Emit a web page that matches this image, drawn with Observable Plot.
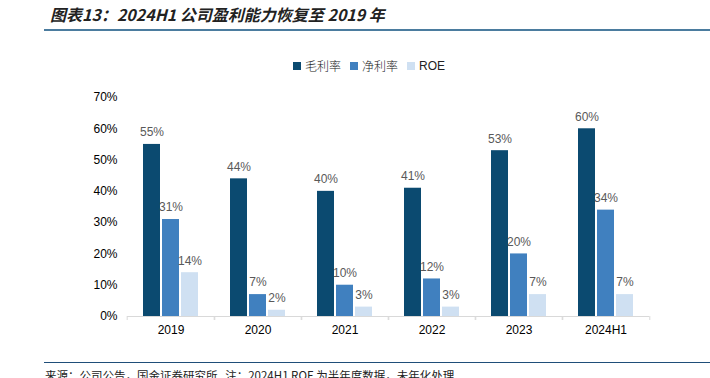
<!DOCTYPE html>
<html>
<head>
<meta charset="utf-8">
<script src="https://cdn.jsdelivr.net/npm/d3@7"></script>
<script src="https://cdn.jsdelivr.net/npm/@observablehq/plot@0.6"></script>
<style>
  html, body { margin: 0; padding: 0; background: #fff; }
  #wrap { position: relative; width: 710px; height: 378px; overflow: hidden; font-family: "Liberation Sans", Arial, sans-serif; }
  #title { position: absolute; left: 50px; top: 3px; font-family: "Noto Sans CJK SC", sans-serif; font-weight: bold; font-style: italic; font-size: 16px; color: #222; white-space: nowrap; line-height: 22px; }
  #tline { position: absolute; left: 44px; top: 29px; width: 666px; height: 2px; background: #4b7c9f; }
  #legend { position: absolute; top: 57px; left: 293px; font-size: 12px; color: #222; white-space: nowrap; display: flex; align-items: center; }
  #legend .item { display: flex; align-items: center; margin-right: 9px; }
  #legend .sw { width: 8px; height: 8px; margin-right: 4px; }
  #legend .zh { font-family: "Noto Sans CJK SC", sans-serif; font-weight: 300; }
  #chart { position: absolute; left: 0; top: 0; }
  #bline { position: absolute; left: 44px; top: 362px; width: 666px; height: 1px; background: #1f4e79; }
  #foot { position: absolute; left: 45px; top: 367px; font-family: "Noto Sans CJK SC", sans-serif; font-size: 11.5px; color: #222; white-space: nowrap; line-height: 16px; }
</style>
</head>
<body>
<div id="wrap">
  <div id="chart"></div>
  <div id="title">图表13：2024H1 公司盈利能力恢复至 2019 年</div>
  <div id="tline"></div>
  <div id="legend"></div>
  <div id="bline"></div>
  <div id="foot">来源：公司公告，国金证券研究所&nbsp;&nbsp;&nbsp;注：2024H1 ROE 为半年度数据，未年化处理</div>
</div>
<script>
const years = ["2019", "2020", "2021", "2022", "2023", "2024H1"];
const seriesNames = ["毛利率", "净利率", "ROE"];
const grossMargin = [55, 44, 40, 41, 53, 60];
const netMargin = [31, 7, 10, 12, 20, 34];
const roe = [14, 2, 3, 3, 7, 7];
const seriesColors = ["#0b4a70", "#4080bf", "#cfe0f2"];
const yTicks = [0, 10, 20, 30, 40, 50, 60, 70];

const seriesValues = [grossMargin, netMargin, roe];
const data = [];
years.forEach((yr, i) => {
  seriesNames.forEach((s, j) => {
    data.push({year: yr, series: s, value: seriesValues[j][i]});
  });
});

// legend
const legend = document.getElementById("legend");
seriesNames.forEach((s, j) => {
  const item = document.createElement("div");
  item.className = "item";
  const sw = document.createElement("div");
  sw.className = "sw";
  sw.style.background = seriesColors[j];
  const t = document.createElement("span");
  t.textContent = s;
  if (/[\u4e00-\u9fff]/.test(s)) t.className = "zh";
  item.appendChild(sw);
  item.appendChild(t);
  legend.appendChild(item);
});

const chart = Plot.plot({
  width: 710,
  height: 378,
  marginLeft: 125,
  marginRight: 59,
  marginTop: 97,
  marginBottom: 62,
  style: {fontFamily: "'Liberation Sans', Arial, sans-serif", fontSize: "12px", background: "transparent", color: "#000"},
  fx: {domain: years, padding: 0, label: null},
  x: {domain: seriesNames, paddingInner: 0.105, paddingOuter: 0.8, axis: null},
  y: {domain: [0, 70], label: null},
  color: {domain: seriesNames, range: seriesColors},
  marks: [
    Plot.axisY({ticks: yTicks, tickFormat: d => d + "%", tickSize: 0, tickPadding: 10, label: null, fontSize: 12, fill: "#000"}),
    Plot.axisFx({anchor: "bottom", tickSize: 0, tickPadding: 9, label: null, fontSize: 12, fill: "#000"}),
    Plot.axisFx({anchor: "bottom", tickSize: 4, text: null, dx: -43.8, stroke: "#d9d9d9", label: null}),
    Plot.axisFx({anchor: "bottom", tickSize: 4, text: null, dx: 43.8, stroke: "#d9d9d9", label: null}),
    Plot.ruleY([0], {stroke: "#d9d9d9", strokeWidth: 1.2}),
    Plot.barY(data, {fx: "year", x: "series", y: "value", fill: "series"}),
    Plot.text(data, {fx: "year", x: "series", y: "value", text: d => d.value + "%", dy: -12, fill: "#595959", fontSize: 12})
  ]
});
document.getElementById("chart").appendChild(chart);
</script>
</body>
</html>
